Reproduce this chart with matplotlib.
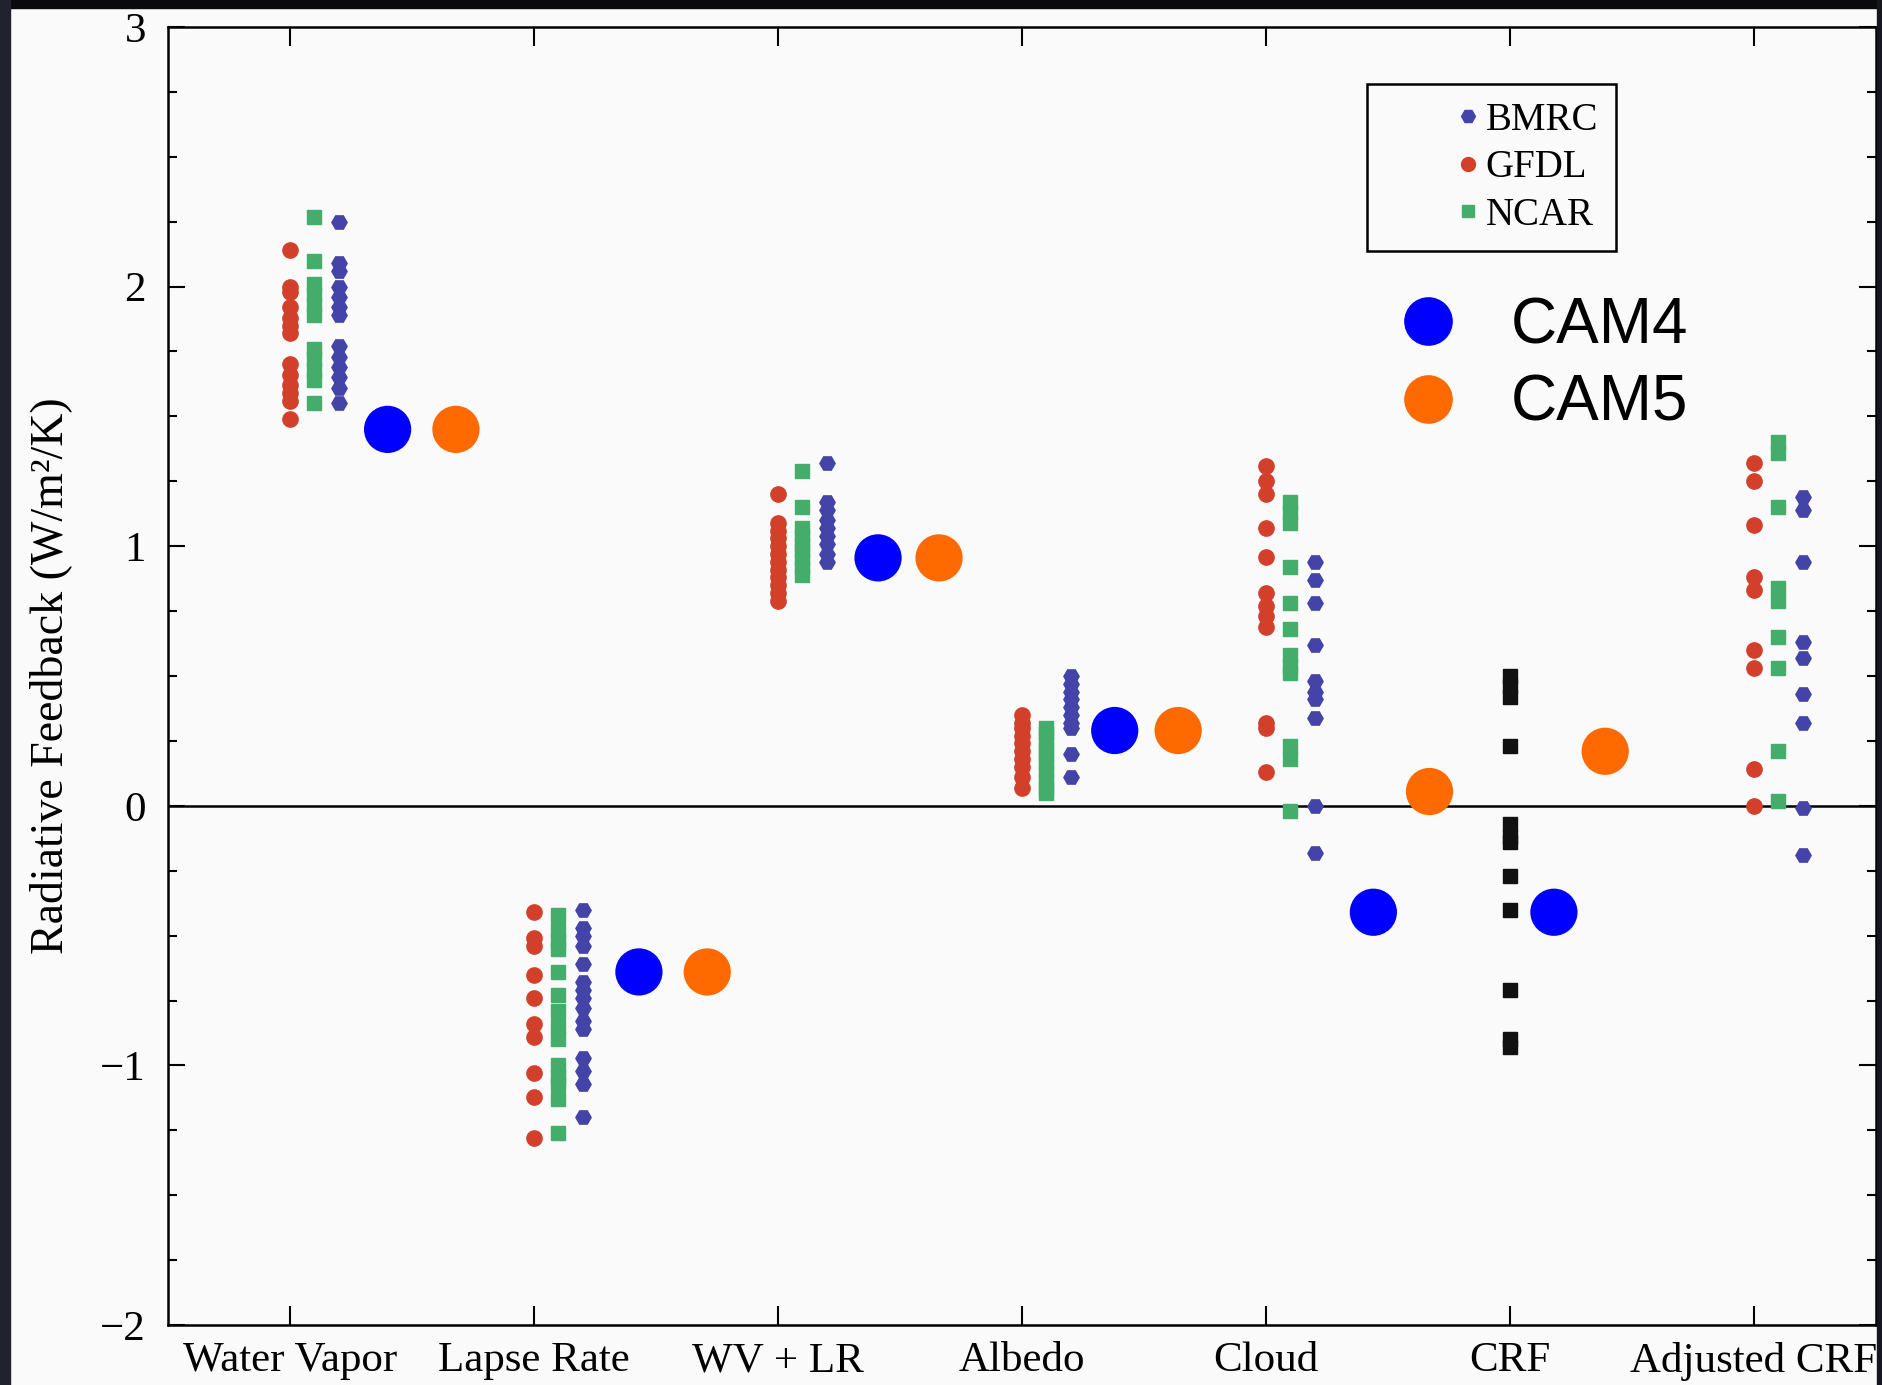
"""
Radiative feedbacks by kernel (BMRC / GFDL / NCAR) with CAM4 and CAM5 overlaid.
"""
import matplotlib
matplotlib.use('Agg')
import matplotlib.pyplot as plt
from matplotlib.lines import Line2D
from matplotlib.patches import Rectangle
from matplotlib.ticker import MultipleLocator

plt.rcParams['font.family'] = ['Liberation Serif', 'DejaVu Serif']

# Categories along the x axis.
categories = ['Water Vapor', 'Lapse Rate', 'WV + LR', 'Albedo', 'Cloud', 'CRF', 'Adjusted CRF']

# Feedbacks (W/m2/K) for each kernel, one list per category (CRF has no kernel).
gfdl_vals = [
    [2.14, 2.00, 1.98, 1.92, 1.88, 1.85, 1.82, 1.70, 1.66, 1.62, 1.59, 1.56, 1.49],
    [-0.41, -0.51, -0.54, -0.65, -0.74, -0.84, -0.89, -1.03, -1.12, -1.28],
    [1.20, 1.09, 1.06, 1.03, 1.00, 0.97, 0.94, 0.91, 0.88, 0.85, 0.82, 0.79],
    [0.35, 0.32, 0.30, 0.27, 0.24, 0.21, 0.18, 0.15, 0.11, 0.07],
    [1.31, 1.25, 1.20, 1.07, 0.96, 0.82, 0.77, 0.73, 0.69, 0.32, 0.30, 0.13],
    [],
    [1.32, 1.25, 1.08, 0.88, 0.83, 0.60, 0.53, 0.14, 0.00],
]
ncar_vals = [
    [2.27, 2.10, 2.01, 1.97, 1.93, 1.89, 1.76, 1.72, 1.68, 1.64, 1.55],
    [-0.42, -0.48, -0.52, -0.55, -0.64, -0.73, -0.79, -0.85, -0.90, -1.00, -1.04, -1.07, -1.13, -1.26],
    [1.29, 1.15, 1.07, 1.04, 1.01, 0.98, 0.95, 0.92, 0.89],
    [0.30, 0.28, 0.25, 0.22, 0.19, 0.16, 0.13, 0.10, 0.07, 0.05],
    [1.17, 1.13, 1.09, 0.92, 0.78, 0.68, 0.58, 0.54, 0.51, 0.23, 0.18, -0.02],
    [],
    [1.40, 1.36, 1.15, 0.84, 0.79, 0.65, 0.53, 0.21, 0.02],
]
bmrc_vals = [
    [2.25, 2.09, 2.06, 2.00, 1.96, 1.92, 1.89, 1.77, 1.73, 1.69, 1.65, 1.61, 1.55],
    [-0.40, -0.47, -0.50, -0.54, -0.61, -0.68, -0.71, -0.74, -0.78, -0.83, -0.86, -0.97, -1.02, -1.07, -1.20],
    [1.32, 1.17, 1.14, 1.10, 1.07, 1.04, 1.01, 0.97, 0.94],
    [0.50, 0.47, 0.44, 0.41, 0.38, 0.35, 0.32, 0.30, 0.20, 0.11],
    [0.94, 0.87, 0.78, 0.62, 0.48, 0.44, 0.41, 0.34, 0.00, -0.18],
    [],
    [1.19, 1.14, 0.94, 0.63, 0.57, 0.43, 0.32, -0.01, -0.19],
]
# Cloud radiative forcing (kernel independent).
crf_vals = [0.50, 0.46, 0.42, 0.23, -0.07, -0.12, -0.14, -0.27, -0.40, -0.71, -0.90, -0.93]

# CAM4 / CAM5 values (no Adjusted CRF).
cam4_vals = [1.45, -0.64, 0.955, 0.29, -0.41, -0.41]
cam5_vals = [1.45, -0.64, 0.955, 0.29, 0.055, 0.21]
cam4_x = [1.40, 2.43, 3.41, 4.38, 5.44, 6.18]
cam5_x = [1.68, 2.71, 3.66, 4.64, 5.67, 6.39]

RED = '#d2402c'
GREEN = '#45ad6c'
BLUE = '#4343a8'

fig = plt.figure(figsize=(18.83, 13.85), dpi=100, facecolor='#fafafa')

# Dark slide border on top / left / right.
fig.patches.append(Rectangle((0, 1 - 8 / 1385), 1, 8 / 1385, transform=fig.transFigure,
                             color='#0a0a0e', zorder=0))
fig.patches.append(Rectangle((0, 0), 10 / 1883, 1, transform=fig.transFigure,
                             color='#22222e', zorder=0))
fig.patches.append(Rectangle((1877 / 1883, 0), 6 / 1883, 1, transform=fig.transFigure,
                             color='#16161e', zorder=0))

ax = fig.add_axes([168 / 1883, 60 / 1385, 1708 / 1883, 1298 / 1385])
ax.set_facecolor('#fafafa')

# Zero line
ax.axhline(0, color='black', lw=1.8, zorder=1)

# Kernel dots
for i, cat in enumerate(categories):
    pos = i + 1
    if cat == 'CRF':
        ax.plot([pos] * len(crf_vals), crf_vals, 's', color='#111111', ms=10, ls='none', zorder=3)
        continue
    ax.plot([pos] * len(gfdl_vals[i]), gfdl_vals[i], 'o', color=RED, ms=11, ls='none', zorder=3)
    ax.plot([pos + 0.10] * len(ncar_vals[i]), ncar_vals[i], 's', color=GREEN, ms=10, ls='none', zorder=3)
    ax.plot([pos + 0.20] * len(bmrc_vals[i]), bmrc_vals[i], 'H', color=BLUE, ms=11, ls='none', zorder=3)

# CAM dots
ax.scatter(cam4_x, cam4_vals, s=34 ** 2, color='#0000ff', edgecolors='none', zorder=4)
ax.scatter(cam5_x, cam5_vals, s=34 ** 2, color='#ff6a00', edgecolors='none', zorder=4)

# Axes
ax.set_xlim(0.5, 7.5)
ax.set_ylim(-2, 3)
ax.set_xticks(range(1, len(categories) + 1))
ax.set_xticklabels(categories)
ax.set_yticks([-2, -1, 0, 1, 2, 3])
ax.yaxis.set_minor_locator(MultipleLocator(0.25))
ax.tick_params(axis='y', which='major', direction='in', length=12, width=1.5,
               left=True, right=True, labelsize=31, pad=16)
ax.tick_params(axis='y', which='minor', direction='in', length=6.5, width=1.5,
               left=True, right=True)
ax.tick_params(axis='x', direction='in', length=14, width=1.5, top=True, bottom=True,
               labelsize=31, pad=12)
for s in ax.spines.values():
    s.set_linewidth(1.8)
ax.set_ylabel('Radiative Feedback (W/m²/K)', fontsize=33, labelpad=20)

# Kernel legend
kernel_handles = [
    Line2D([], [], marker='H', color=BLUE, ls='none', ms=10, label='BMRC'),
    Line2D([], [], marker='o', color=RED, ls='none', ms=10, label='GFDL'),
    Line2D([], [], marker='s', color=GREEN, ls='none', ms=9, label='NCAR'),
]
leg1 = ax.legend(handles=kernel_handles, loc='upper left', bbox_to_anchor=(0.702, 0.956),
                 borderaxespad=0, fontsize=28, frameon=True, fancybox=False,
                 edgecolor='black', facecolor='#fafafa', framealpha=1,
                 handlelength=4.3, handletextpad=-1.7, borderpad=0.45, labelspacing=0.27)
leg1.get_frame().set_linewidth(1.8)
ax.add_artist(leg1)

# CAM legend
cam_handles = [
    Line2D([], [], marker='o', color='#0000ff', ls='none', ms=34, label='CAM4'),
    Line2D([], [], marker='o', color='#ff6a00', ls='none', ms=34, label='CAM5'),
]
ax.legend(handles=cam_handles, loc='center left', bbox_to_anchor=(0.719, 0.7396),
          borderaxespad=0, frameon=False, handlelength=1, handletextpad=0.8,
          borderpad=0, labelspacing=0.28,
          prop={'family': 'Liberation Sans', 'size': 46})

fig.savefig('out.png', dpi=100, facecolor=fig.get_facecolor())
